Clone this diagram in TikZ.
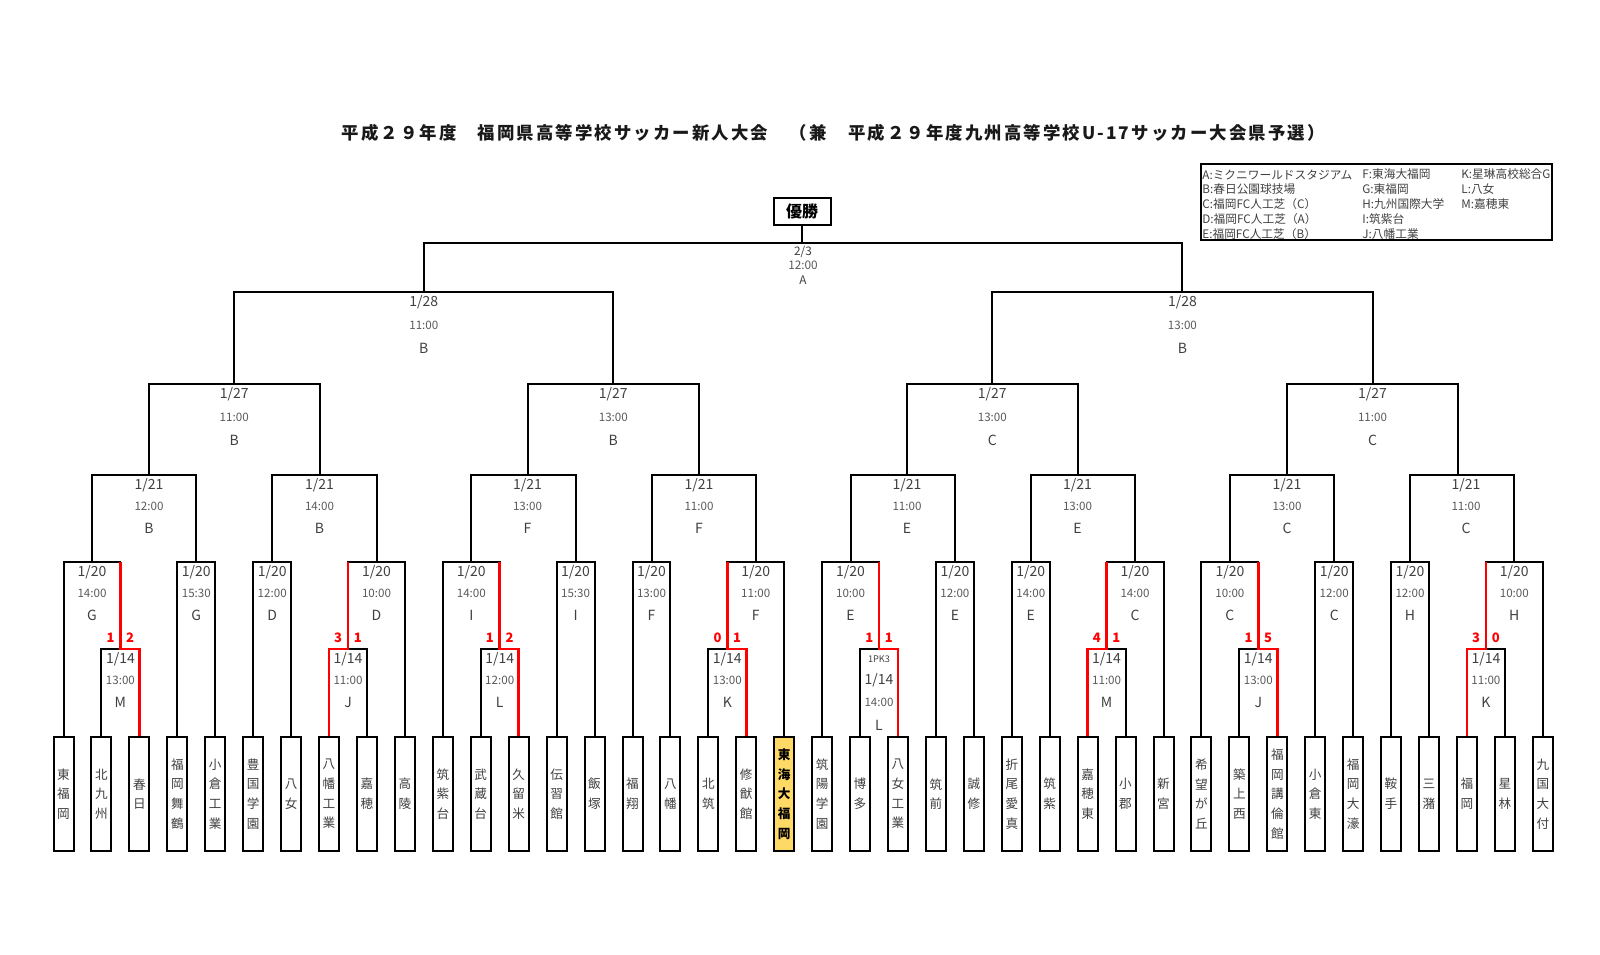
\documentclass[tikz,border=0pt]{standalone}
\usepackage{fontspec}
\setmainfont{Noto Sans CJK JP}
\newfontfamily\titlefont[LetterSpace=12]{Noto Sans CJK JP}
\usetikzlibrary{calc}
\definecolor{gold}{HTML}{FFD966}
\definecolor{txt}{HTML}{404040}
\definecolor{tmc}{HTML}{595959}
\newcommand\mlab[4]{%
  \node[dt] (#1-d) at ($(#1)+(0,10)$) {#2};
  \node[tm] (#1-t) at ($(#1)+(0,31)$) {#3};
  \node[dt] (#1-v) at ($(#1)+(0,53.5)$) {#4};}
\newcommand\mlabu[4]{%
  \node[dt] (#1-d) at ($(#1)+(0,10.5)$) {#2};
  \node[tm] (#1-t) at ($(#1)+(0,33.5)$) {#3};
  \node[dt] (#1-v) at ($(#1)+(0,56)$) {#4};}
\newcommand\mscore[3]{%
  \node[sc] (#1-l) at ($(#1)+(-9.8,-11)$) {#2};
  \node[sc] (#1-r) at ($(#1)+(9.8,-11)$) {#3};}
\begin{document}
\begin{tikzpicture}[x=0.5pt,y=-0.5pt,
  ln/.style={line width=1pt, draw=black},
  win/.style={line width=1.3pt, draw=red},
  team/.style={draw=black, line width=1pt, fill=white, minimum width=10pt, minimum height=57pt, inner sep=0pt, align=center, text=txt, font=\fontsize{6.3}{9.85}\selectfont},
  goldteam/.style={team, fill=gold, text=black, font=\bfseries\fontsize{6.3}{9.85}\selectfont},
  dt/.style={inner sep=0pt, text=txt, font=\fontsize{7}{8}\selectfont},
  tm/.style={inner sep=0pt, text=tmc, font=\fontsize{5.8}{7}\selectfont},
  fl/.style={inner sep=0pt, text=txt, font=\fontsize{5.9}{7}\selectfont},
  pk/.style={inner sep=0pt, text=txt, font=\fontsize{4.6}{6}\selectfont},
  sc/.style={inner sep=0pt, text=red, font=\bfseries\fontsize{6.5}{8}\selectfont},
  lg/.style={anchor=west, inner sep=0pt, text=txt, font=\fontsize{5.85}{7}\selectfont},
  champ/.style={draw=black, line width=1pt, minimum width=28.5pt, minimum height=13.5pt, inner sep=0pt, font=\bfseries\fontsize{8}{9}\selectfont}
]
\useasboundingbox (0,0) rectangle (1600,954);

% title
\node[inner sep=0pt, text=black!90] (title) at (833,133) {\titlefont\bfseries\fontsize{8.7}{10}\selectfont 平成２９年度　福岡県高等学校サッカー新人大会　（兼　平成２９年度九州高等学校U-17サッカー大会県予選）};

% legend
\node[draw=black, line width=1pt, anchor=north west, minimum width=175.5pt, minimum height=38pt, inner sep=0pt] (legend) at (1200,163) {};
\node[lg] (l1) at (1202,174.5) {A:ミクニワールドスタジアム};
\node[lg] (l2) at (1202,189.5) {B:春日公園球技場};
\node[lg] (l3) at (1202,204.5) {C:福岡FC人工芝（C）};
\node[lg] (l4) at (1202,219.5) {D:福岡FC人工芝（A）};
\node[lg] (l5) at (1202,234.5) {E:福岡FC人工芝（B）};
\node[lg] (l6) at (1362,174.5) {F:東海大福岡};
\node[lg] (l7) at (1362,189.5) {G:東福岡};
\node[lg] (l8) at (1362,204.5) {H:九州国際大学};
\node[lg] (l9) at (1362,219.5) {I:筑紫台};
\node[lg] (l10) at (1362,234.5) {J:八幡工業};
\node[lg] (l11) at (1461,174.5) {K:星琳高校総合G};
\node[lg] (l12) at (1461,189.5) {L:八女};
\node[lg] (l13) at (1461,204.5) {M:嘉穂東};

% teams
\node[team] (t1) at (63.5,794) {東\\福\\岡};
\node[team] (t2) at (101.4,794) {北\\九\\州};
\node[team] (t3) at (139.4,794) {春\\日};
\node[team] (t4) at (177.3,794) {福\\岡\\舞\\鶴};
\node[team] (t5) at (215.2,794) {小\\倉\\工\\業};
\node[team] (t6) at (253.2,794) {豊\\国\\学\\園};
\node[team] (t7) at (291.1,794) {八\\女};
\node[team] (t8) at (329.0,794) {八\\幡\\工\\業};
\node[team] (t9) at (367.0,794) {嘉\\穂};
\node[team] (t10) at (404.9,794) {高\\陵};
\node[team] (t11) at (442.8,794) {筑\\紫\\台};
\node[team] (t12) at (480.7,794) {武\\蔵\\台};
\node[team] (t13) at (518.7,794) {久\\留\\米};
\node[team] (t14) at (556.6,794) {伝\\習\\館};
\node[team] (t15) at (594.5,794) {飯\\塚};
\node[team] (t16) at (632.5,794) {福\\翔};
\node[team] (t17) at (670.4,794) {八\\幡};
\node[team] (t18) at (708.3,794) {北\\筑};
\node[team] (t19) at (746.2,794) {修\\猷\\館};
\node[goldteam] (t20) at (784.2,794) {東\\海\\大\\福\\岡};
\node[team] (t21) at (822.1,794) {筑\\陽\\学\\園};
\node[team] (t22) at (860.0,794) {博\\多};
\node[team] (t23) at (898.0,794) {八\\女\\工\\業};
\node[team] (t24) at (935.9,794) {筑\\前};
\node[team] (t25) at (973.8,794) {誠\\修};
\node[team] (t26) at (1011.8,794) {折\\尾\\愛\\真};
\node[team] (t27) at (1049.7,794) {筑\\紫};
\node[team] (t28) at (1087.6,794) {嘉\\穂\\東};
\node[team] (t29) at (1125.5,794) {小\\郡};
\node[team] (t30) at (1163.5,794) {新\\宮};
\node[team] (t31) at (1201.4,794) {希\\望\\が\\丘};
\node[team] (t32) at (1239.3,794) {築\\上\\西};
\node[team] (t33) at (1277.3,794) {福\\岡\\講\\倫\\館};
\node[team] (t34) at (1315.2,794) {小\\倉\\東};
\node[team] (t35) at (1353.1,794) {福\\岡\\大\\濠};
\node[team] (t36) at (1391.0,794) {鞍\\手};
\node[team] (t37) at (1429.0,794) {三\\潴};
\node[team] (t38) at (1466.9,794) {福\\岡};
\node[team] (t39) at (1504.8,794) {星\\林};
\node[team] (t40) at (1542.8,794) {九\\国\\大\\付};

% junctions
\coordinate (g1p) at (120.4,649);
\coordinate (g1a) at (92.0,562);
\coordinate (g1b) at (196.3,562);
\coordinate (g1) at (149,475);
\coordinate (g2a) at (272.2,562);
\coordinate (g2p) at (348.0,649);
\coordinate (g2b) at (376.5,562);
\coordinate (g2) at (319.5,475);
\coordinate (g3p) at (499.7,649);
\coordinate (g3a) at (471.3,562);
\coordinate (g3b) at (575.6,562);
\coordinate (g3) at (527.5,475);
\coordinate (g4a) at (651.5,562);
\coordinate (g4p) at (727.3,649);
\coordinate (g4b) at (755.7,562);
\coordinate (g4) at (699,475);
\coordinate (g5p) at (879.0,649);
\coordinate (g5a) at (850.6,562);
\coordinate (g5b) at (954.9,562);
\coordinate (g5) at (907,475);
\coordinate (g6a) at (1030.8,562);
\coordinate (g6p) at (1106.6,649);
\coordinate (g6b) at (1135.0,562);
\coordinate (g6) at (1077.5,475);
\coordinate (g7p) at (1258.3,649);
\coordinate (g7a) at (1229.9,562);
\coordinate (g7b) at (1334.2,562);
\coordinate (g7) at (1287,475);
\coordinate (g8a) at (1410.0,562);
\coordinate (g8p) at (1485.9,649);
\coordinate (g8b) at (1514.3,562);
\coordinate (g8) at (1458,475);
\coordinate (g8L) at (1466,475);
\coordinate (q1) at (234.2,384);
\coordinate (q2) at (613.3,384);
\coordinate (q3) at (992.3,384);
\coordinate (q4) at (1372.5,384);
\coordinate (s1) at (423.8,292);
\coordinate (s2) at (1182.4,292);
\coordinate (fin) at (803,243);

% group 1
\draw[ln] (t2.north) |- (g1p) -| (t3.north);
\draw[ln] (t1.north) |- (g1a) -| (g1p);
\draw[ln] (t4.north) |- (g1b) -| (t5.north);
\draw[ln] (g1a) |- (g1) -| (g1b);
% group 2
\draw[ln] (t6.north) |- (g2a) -| (t7.north);
\draw[ln] (t8.north) |- (g2p) -| (t9.north);
\draw[ln] (g2p) |- (g2b) -| (t10.north);
\draw[ln] (g2a) |- (g2) -| (g2b);
% group 3
\draw[ln] (t12.north) |- (g3p) -| (t13.north);
\draw[ln] (t11.north) |- (g3a) -| (g3p);
\draw[ln] (t14.north) |- (g3b) -| (t15.north);
\draw[ln] (g3a) |- (g3) -| (g3b);
% group 4
\draw[ln] (t16.north) |- (g4a) -| (t17.north);
\draw[ln] (t18.north) |- (g4p) -| (t19.north);
\draw[ln] (g4p) |- (g4b) -| (t20.north);
\draw[ln] (g4a) |- (g4) -| (g4b);
% group 5
\draw[ln] (t22.north) |- (g5p) -| (t23.north);
\draw[ln] (t21.north) |- (g5a) -| (g5p);
\draw[ln] (t24.north) |- (g5b) -| (t25.north);
\draw[ln] (g5a) |- (g5) -| (g5b);
% group 6
\draw[ln] (t26.north) |- (g6a) -| (t27.north);
\draw[ln] (t28.north) |- (g6p) -| (t29.north);
\draw[ln] (g6p) |- (g6b) -| (t30.north);
\draw[ln] (g6a) |- (g6) -| (g6b);
% group 7
\draw[ln] (t32.north) |- (g7p) -| (t33.north);
\draw[ln] (t31.north) |- (g7a) -| (g7p);
\draw[ln] (t34.north) |- (g7b) -| (t35.north);
\draw[ln] (g7a) |- (g7) -| (g7b);
% group 8
\draw[ln] (t36.north) |- (g8a) -| (t37.north);
\draw[ln] (t38.north) |- (g8p) -| (t39.north);
\draw[ln] (g8p) |- (g8b) -| (t40.north);
\draw[ln] (g8a) |- (g8) -| (g8b);
% upper rounds
\draw[ln] (g1) |- (q1) -| (g2);
\draw[ln] (g3) |- (q2) -| (g4);
\draw[ln] (g5) |- (q3) -| (g6);
\draw[ln] (g7) |- (q4) -| (g8);
\draw[ln] (q1) |- (s1) -| (q2);
\draw[ln] (q3) |- (s2) -| (q4);
\draw[ln] (s1) |- (fin) -| (s2);
\node[champ] (champ) at (802,211.5) {優勝};
\draw[ln] (champ.south) -- (champ.south |- fin);

% winners (red)
\draw[win] (t3.north) |- (g1p) -- (g1p |- g1a);
\draw[win] (t8.north) |- (g2p) -- (g2p |- g2b);
\draw[win] (t13.north) |- (g3p) -- (g3p |- g3a);
\draw[win] (t19.north) |- (g4p) -- (g4p |- g4b);
\draw[win] (t23.north) |- (g5p) -- (g5p |- g5a);
\draw[win] (t28.north) |- (g6p) -- (g6p |- g6b);
\draw[win] (t33.north) |- (g7p) -- (g7p |- g7a);
\draw[win] (t38.north) |- (g8p) -- (g8p |- g8b);

% scores
\mscore{g1p}{1}{2}
\mscore{g2p}{3}{1}
\mscore{g3p}{1}{2}
\mscore{g4p}{0}{1}
\mscore{g5p}{1}{1}
\mscore{g6p}{4}{1}
\mscore{g7p}{1}{5}
\mscore{g8p}{3}{0}

% labels 1/14
\mlab{g1p}{1/14}{13:00}{M}
\mlab{g2p}{1/14}{11:00}{J}
\mlab{g3p}{1/14}{12:00}{L}
\mlab{g4p}{1/14}{13:00}{K}
\node[pk] (g5p-k) at ($(g5p)+(0,10)$) {1PK3};
\node[dt] (g5p-d) at ($(g5p)+(0,31)$) {1/14};
\node[tm] (g5p-t) at ($(g5p)+(0,53.5)$) {14:00};
\node[dt] (g5p-v) at ($(g5p)+(0,76)$) {L};
\mlab{g6p}{1/14}{11:00}{M}
\mlab{g7p}{1/14}{13:00}{J}
\mlab{g8p}{1/14}{11:00}{K}
% labels 1/20
\mlab{g1a}{1/20}{14:00}{G}
\mlab{g1b}{1/20}{15:30}{G}
\mlab{g2a}{1/20}{12:00}{D}
\mlab{g2b}{1/20}{10:00}{D}
\mlab{g3a}{1/20}{14:00}{I}
\mlab{g3b}{1/20}{15:30}{I}
\mlab{g4a}{1/20}{13:00}{F}
\mlab{g4b}{1/20}{11:00}{F}
\mlab{g5a}{1/20}{10:00}{E}
\mlab{g5b}{1/20}{12:00}{E}
\mlab{g6a}{1/20}{14:00}{E}
\mlab{g6b}{1/20}{14:00}{C}
\mlab{g7a}{1/20}{10:00}{C}
\mlab{g7b}{1/20}{12:00}{C}
\mlab{g8a}{1/20}{12:00}{H}
\mlab{g8b}{1/20}{10:00}{H}
% labels 1/21
\mlab{g1}{1/21}{12:00}{B}
\mlab{g2}{1/21}{14:00}{B}
\mlab{g3}{1/21}{13:00}{F}
\mlab{g4}{1/21}{11:00}{F}
\mlab{g5}{1/21}{11:00}{E}
\mlab{g6}{1/21}{13:00}{E}
\mlab{g7}{1/21}{13:00}{C}
\mlab{g8L}{1/21}{11:00}{C}
% labels 1/27, 1/28
\mlabu{q1}{1/27}{11:00}{B}
\mlabu{q2}{1/27}{13:00}{B}
\mlabu{q3}{1/27}{13:00}{C}
\mlabu{q4}{1/27}{11:00}{C}
\mlabu{s1}{1/28}{11:00}{B}
\mlabu{s2}{1/28}{13:00}{B}
% final
\node[fl] (fin-d) at ($(fin)+(0,9)$) {2/3};
\node[fl, text=tmc] (fin-t) at ($(fin)+(0,22.5)$) {12:00};
\node[fl] (fin-v) at ($(fin)+(0,37)$) {A};
\end{tikzpicture}
\end{document}
